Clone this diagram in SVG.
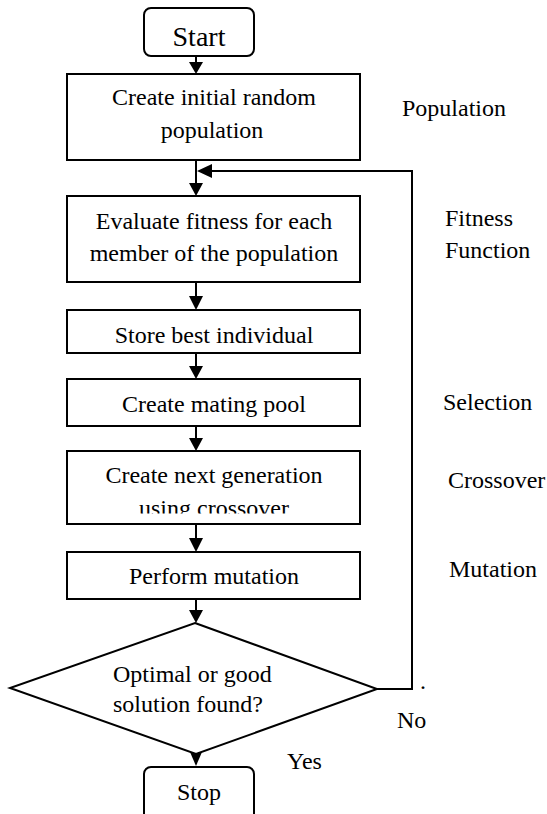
<svg xmlns="http://www.w3.org/2000/svg" width="547" height="814" viewBox="0 0 547 814" font-family="Liberation Serif, Times New Roman, serif" font-size="24">
<style>
.box{fill:#fff;stroke:#000;stroke-width:2}
.ln{fill:none;stroke:#000;stroke-width:2}
.ah{fill:#000;stroke:none}
.c{text-anchor:middle}
</style>
<defs>
<clipPath id="clip5"><rect x="60" y="440" width="310" height="73.5"/></clipPath>
</defs>
<rect width="547" height="814" fill="#fff"/>
<g id="connectors">
<line class="ln" x1="196" y1="56" x2="196" y2="64"/>
<polygon class="ah" points="189,62 203,62 196,74"/>
<line class="ln" x1="196" y1="160" x2="196" y2="185"/>
<polygon class="ah" points="189,183 203,183 196,196"/>
<polyline class="ln" points="377,689 412,689 412,171 208,171"/>
<polygon class="ah" points="212,164 212,178 197,171"/>
<line class="ln" x1="196" y1="282" x2="196" y2="298"/>
<polygon class="ah" points="189,296 203,296 196,310"/>
<line class="ln" x1="196" y1="353" x2="196" y2="368"/>
<polygon class="ah" points="189,366 203,366 196,379"/>
<line class="ln" x1="196" y1="426" x2="196" y2="440"/>
<polygon class="ah" points="189,438 203,438 196,451"/>
<line class="ln" x1="196" y1="524" x2="196" y2="540"/>
<polygon class="ah" points="189,538 203,538 196,552"/>
<line class="ln" x1="196" y1="599" x2="196" y2="612"/>
<polygon class="ah" points="189,610 203,610 196,623"/>
<polygon class="ah" points="190,752 202,752 196,766"/>
</g>
<g id="start">
<rect class="box" x="144" y="8" width="110" height="48" rx="7"/>
<text class="c" x="199" y="46" font-size="28">Start</text>
</g>
<g id="create-population">
<rect class="box" x="67" y="74" width="293" height="86"/>
<text class="c" x="214" y="105">Create initial random</text>
<text class="c" x="212" y="138">population</text>
</g>
<g id="evaluate">
<rect class="box" x="67" y="196" width="293" height="86"/>
<text class="c" x="214" y="229">Evaluate fitness for each</text>
<text class="c" x="214" y="261">member of the population</text>
</g>
<g id="store">
<rect class="box" x="67" y="310" width="293" height="43"/>
<text class="c" x="214" y="343">Store best individual</text>
</g>
<g id="mating">
<rect class="box" x="67" y="379" width="293" height="47"/>
<text class="c" x="214" y="412">Create mating pool</text>
</g>
<g id="crossover">
<rect class="box" x="67" y="451" width="293" height="73"/>
<text class="c" x="214" y="483">Create next generation</text>
<text class="c" x="214" y="516" clip-path="url(#clip5)">using crossover</text>
</g>
<g id="mutation">
<rect class="box" x="67" y="552" width="293" height="47"/>
<text class="c" x="214" y="584">Perform mutation</text>
</g>
<g id="decision">
<polygon class="box" points="195,623 377,689 196,754 10,688"/>
<text x="113" y="682">Optimal or good</text>
<text x="113" y="712">solution found?</text>
</g>
<g id="stop">
<rect class="box" x="144" y="767" width="110" height="70" rx="7"/>
<text class="c" x="199" y="800">Stop</text>
</g>
<g id="labels">
<text x="402" y="116">Population</text>
<text x="445" y="226">Fitness</text>
<text x="445" y="258">Function</text>
<text x="443" y="410">Selection</text>
<text x="448" y="488">Crossover</text>
<text x="449" y="577">Mutation</text>
<text x="420" y="689">.</text>
<text x="397" y="728">No</text>
<text x="287" y="769">Yes</text>
</g>
</svg>
